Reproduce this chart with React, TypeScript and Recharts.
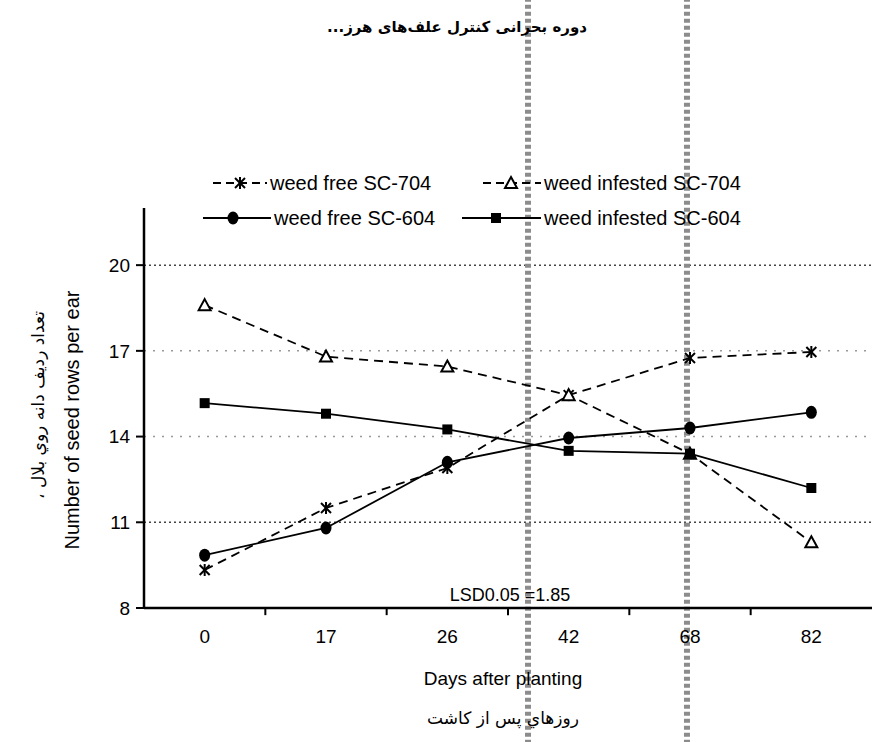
import { LineChart, Line, XAxis, YAxis, ReferenceLine } from 'recharts';

// seed rows per ear
const days = ['0', '17', '26', '42', '68', '82'];
const weedFree704 = [9.33, 11.5, 12.9, 15.45, 16.75, 16.96];
const weedInfested704 = [18.6, 16.8, 16.45, 15.45, 13.4, 10.3];
const weedFree604 = [9.85, 10.8, 13.1, 13.95, 14.3, 14.85];
const weedInfested604 = [15.17, 14.8, 14.25, 13.5, 13.4, 12.2];

const yTicks = [8, 11, 14, 17, 20];
const gridLines = [11, 14, 17, 20];
// x runs over category index; tick marks sit between the categories
const categoryBounds = [0.5, 1.5, 2.5, 3.5, 4.5];
// start / end of the critical period, in category-index units
const criticalPeriod = [2.665, 3.975];

const data = days.map((day, i) => ({
  idx: i,
  day,
  wf704: weedFree704[i],
  wi704: weedInfested704[i],
  wf604: weedFree604[i],
  wi604: weedInfested604[i],
}));

const FONT = '"Liberation Sans", Arial, sans-serif';
const FA_FONT = '"DejaVu Sans", sans-serif';

function Star({ cx, cy }: { cx: number; cy: number }) {
  return (
    <g stroke="#000" strokeWidth={2}>
      <line x1={cx - 5} y1={cy - 5} x2={cx + 5} y2={cy + 5} />
      <line x1={cx + 5} y1={cy - 5} x2={cx - 5} y2={cy + 5} />
      <line x1={cx} y1={cy - 6} x2={cx} y2={cy + 6} />
    </g>
  );
}

function Triangle({ cx, cy }: { cx: number; cy: number }) {
  return (
    <polygon
      points={`${cx},${cy - 6} ${cx + 6},${cy + 5} ${cx - 6},${cy + 5}`}
      fill="#fff"
      stroke="#000"
      strokeWidth={2}
    />
  );
}

function Circle({ cx, cy }: { cx: number; cy: number }) {
  return <ellipse cx={cx} cy={cy} rx={5.5} ry={6.5} fill="#000" />;
}

function Square({ cx, cy }: { cx: number; cy: number }) {
  return <rect x={cx - 5} y={cy - 5} width={10} height={10} fill="#000" />;
}

const marker = (Shape: any) => (p: any) => <Shape key={p.index} cx={p.cx} cy={p.cy} />;

function LegendItem({ left, top, lineW, markAt, dashed, Shape, label }: any) {
  return (
    <div style={{ position: 'absolute', left, top, display: 'flex', alignItems: 'center', height: 20 }}>
      <svg width={lineW} height={20}>
        <line x1={0} y1={10} x2={lineW} y2={10} stroke="#000" strokeWidth={1.8} strokeDasharray={dashed ? '8 5' : undefined} />
        <Shape cx={markAt} cy={10} />
      </svg>
      <span style={{ fontSize: 20, marginLeft: 3, whiteSpace: 'nowrap' }}>{label}</span>
    </div>
  );
}

const abs = (extra: any) => ({ position: 'absolute' as const, whiteSpace: 'nowrap' as const, ...extra });

export default function App() {
  return (
    <div style={{ position: 'absolute', left: 0, top: 0, width: 873, height: 742, background: '#fff', fontFamily: FONT, color: '#000', overflow: 'hidden' }}>
      <LineChart width={873} height={742} data={data} margin={{ top: 208, right: 1, bottom: 94, left: 84 }}>
        <XAxis
          dataKey="idx"
          type="number"
          domain={[-0.5, 5.5]}
          allowDataOverflow
          ticks={days.map((_, i) => i)}
          tickFormatter={(i: number) => days[i]}
          height={40}
          axisLine={{ stroke: '#000', strokeWidth: 2.5 }}
          tickLine={false}
          tickMargin={16}
          tick={{ fill: '#000', fontSize: 19, fontFamily: FONT }}
        />
        <YAxis
          domain={[8, 22]}
          ticks={yTicks}
          width={60}
          axisLine={{ stroke: '#000', strokeWidth: 2.5 }}
          tickLine={{ stroke: '#000', strokeWidth: 2 }}
          tickSize={8}
          tickMargin={6}
          tick={{ fill: '#000', fontSize: 19, fontFamily: FONT }}
        />
        {gridLines.map((v) => (
          <ReferenceLine
            key={v}
            y={v}
            stroke={v === 11 || v === 20 ? '#444' : '#999'}
            strokeDasharray={v === 11 || v === 20 ? '2 3' : '2 7'}
            strokeWidth={1.5}
          />
        ))}
        {categoryBounds.map((b) => (
          <ReferenceLine
            key={b}
            segment={[{ x: b, y: 8 }, { x: b, y: 7.75 }]}
            ifOverflow="visible"
            stroke="#000"
            strokeWidth={2}
          />
        ))}
        {criticalPeriod.map((x) => (
          <ReferenceLine
            key={x}
            segment={[{ x, y: 3 }, { x, y: 30 }]}
            ifOverflow="visible"
            stroke="#8c8c8c"
            strokeWidth={6}
            strokeDasharray="4 3"
          />
        ))}
        <Line dataKey="wf704" stroke="#000" strokeWidth={1.8} strokeDasharray="9 6" dot={marker(Star)} isAnimationActive={false} />
        <Line dataKey="wi704" stroke="#000" strokeWidth={1.8} strokeDasharray="9 6" dot={marker(Triangle)} isAnimationActive={false} />
        <Line dataKey="wf604" stroke="#000" strokeWidth={1.8} dot={marker(Circle)} isAnimationActive={false} />
        <Line dataKey="wi604" stroke="#000" strokeWidth={1.8} dot={marker(Square)} isAnimationActive={false} />
      </LineChart>

      <LegendItem left={213} top={173} lineW={54} markAt={27} dashed Shape={Star} label="weed free SC-704" />
      <LegendItem left={483} top={173} lineW={58} markAt={28} dashed Shape={Triangle} label="weed infested SC-704" />
      <LegendItem left={203} top={208} lineW={68} markAt={30} Shape={Circle} label="weed free SC-604" />
      <LegendItem left={462} top={208} lineW={79} markAt={34} Shape={Square} label="weed infested SC-604" />

      <div dir="rtl" style={abs({ left: 457, top: 18, transform: 'translateX(-50%)', fontFamily: FA_FONT, fontSize: 15, fontWeight: 'bold' })}>
        دوره بحرانی کنترل علف‌های هرز...
      </div>
      <div style={abs({ left: 510, top: 585, transform: 'translateX(-50%)', fontSize: 18 })}>LSD0.05 =1.85</div>
      <div style={abs({ left: 503, top: 668, transform: 'translateX(-50%)', fontSize: 19 })}>Days after planting</div>
      <div dir="rtl" style={abs({ left: 503, top: 708, transform: 'translateX(-50%)', fontFamily: FA_FONT, fontSize: 17 })}>
        روزهاي پس از كاشت
      </div>
      <div style={abs({ left: 72, top: 420, transform: 'translate(-50%, -50%) rotate(-90deg)', fontSize: 20 })}>
        Number of seed rows per ear
      </div>
      <div dir="rtl" style={abs({ left: 38, top: 405, transform: 'translate(-50%, -50%) rotate(-90deg)', fontFamily: FA_FONT, fontSize: 17 })}>
        تعداد رديف دانه روي بلال ،
      </div>
    </div>
  );
}
